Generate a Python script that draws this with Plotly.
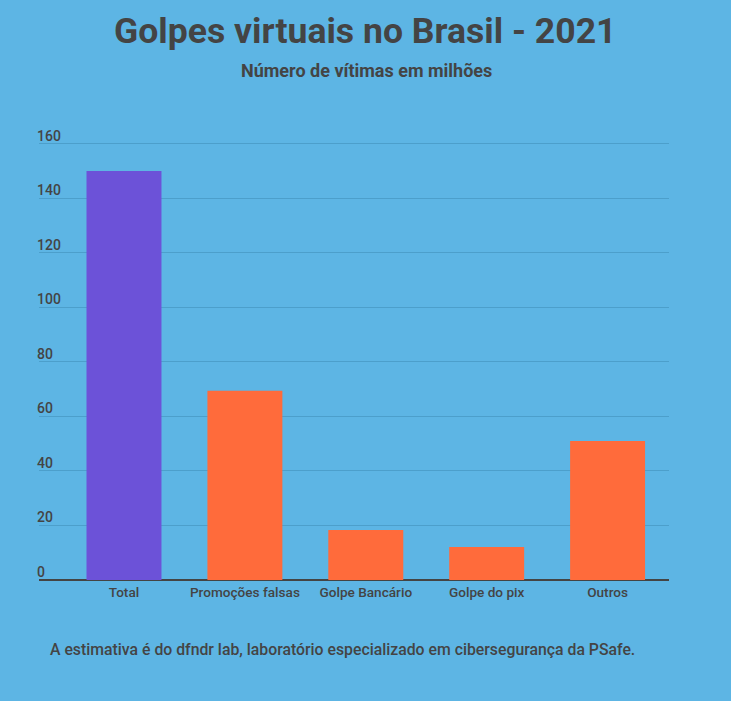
import plotly.graph_objects as go

categories = ["Total", "Promoções falsas", "Golpe Bancário", "Golpe do pix", "Outros"]
values = [150, 69.4, 18.3, 12.1, 51]
bar_colors = ["#6C52D8", "#FF6B3B", "#FF6B3B", "#FF6B3B", "#FF6B3B"]
y_ticks = [0, 20, 40, 60, 80, 100, 120, 140, 160]

BG = "#5DB5E4"
TXT = "#444444"
ML, MR, MT, MB = 39, 62, 141, 121
W, H = 731, 701

fig = go.Figure(go.Bar(
    x=list(range(len(categories))), y=values,
    marker=dict(color=bar_colors, line=dict(width=0)),
    width=0.62, hoverinfo="skip",
))

fig.update_layout(
    width=W, height=H,
    paper_bgcolor=BG, plot_bgcolor=BG,
    margin=dict(l=ML, r=MR, t=MT, b=MB),
    showlegend=False,
    font=dict(family="Roboto", color=TXT),
    xaxis=dict(
        range=[-0.703, 4.508],
        tickmode="array", tickvals=list(range(len(categories))), ticktext=categories,
        showgrid=False, zeroline=False, showline=False, ticks="",
        ticklabelstandoff=2,
        tickfont=dict(size=13.6, color=TXT, family="Roboto", weight=500),
    ),
    yaxis=dict(
        range=[0, 161], tickmode="array", tickvals=y_ticks,
        showticklabels=False,
        showgrid=True, gridcolor="#4C9FCB", gridwidth=1,
        zeroline=True, zerolinecolor="#444444", zerolinewidth=2,
        showline=False, ticks="",
    ),
)

pw = W - ML - MR
ph = H - MT - MB

def px_ann(text, x_px, y_px, size, xanchor="center", weight="normal"):
    return dict(text=text, x=(x_px - ML) / pw, y=(H - MB - y_px) / ph,
                xref="paper", yref="paper", xanchor=xanchor, yanchor="middle",
                showarrow=False, font=dict(size=size, color=TXT, family="Roboto", weight=weight))

anns = [
    px_ann("<b>Golpes virtuais no Brasil - 2021</b>", W / 2, 31, 35.6),
    px_ann("<b>Número de vítimas em milhões</b>", W / 2 + 0.5, 71, 18),
    px_ann("A estimativa é do dfndr lab, laboratório especializado em cibersegurança da PSafe.",
           48, 649, 15.8, xanchor="left", weight=500),
]
for t in y_ticks:
    anns.append(dict(text=str(t), x=0, y=t, xref="paper", yref="y",
                     xanchor="left", yanchor="bottom", yshift=-2, xshift=-4,
                     showarrow=False, font=dict(size=14, color=TXT, family="Roboto", weight=500)))
fig.update_layout(annotations=anns)

fig.write_html("out.html")
